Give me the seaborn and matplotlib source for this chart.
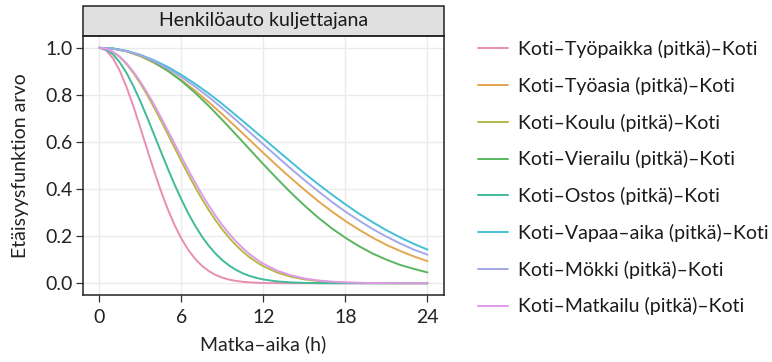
import numpy as np
import pandas as pd
import matplotlib
matplotlib.use("Agg")
import matplotlib.pyplot as plt
from matplotlib.patches import Rectangle
import seaborn as sns

# Travel time in hours: half-hour steps up to 12 h for the steep curves
hours_fine = [0, 0.5, 1, 1.5, 2, 2.5, 3, 3.5, 4, 4.5, 5, 5.5, 6, 6.5, 7, 7.5, 8,
              8.5, 9, 9.5, 10, 10.5, 11, 11.5, 12, 13, 14, 15, 16, 17, 18, 19,
              20, 21, 22, 23, 24]
hours = list(range(0, 25))

# Distance-decay function values per trip type (car driver)
tyopaikka = [1.0, 0.9885, 0.9548, 0.9012, 0.8311, 0.7489, 0.6595, 0.5675, 0.4771,
             0.3920, 0.3146, 0.2468, 0.1892, 0.1417, 0.1037, 0.0741, 0.0518,
             0.0354, 0.0236, 0.0154, 0.0098, 0.0061, 0.0037, 0.0022, 0.0013,
             0.0004, 0.0001, 0, 0, 0, 0, 0, 0, 0, 0, 0, 0]
koulu = [1.0, 0.9954, 0.9819, 0.9597, 0.9296, 0.8921, 0.8484, 0.7995, 0.7466,
         0.6909, 0.6335, 0.5756, 0.5182, 0.4623, 0.4087, 0.3580, 0.3108, 0.2673,
         0.2278, 0.1924, 0.1610, 0.1335, 0.1097, 0.0894, 0.0721, 0.0457, 0.0279,
         0.0164, 0.0093, 0.0051, 0.0027, 0.0014, 0.0007, 0.0003, 0.0001, 0.0001, 0]
ostos = [1.0, 0.9928, 0.9717, 0.9374, 0.8915, 0.8357, 0.7722, 0.7034, 0.6315,
         0.5589, 0.4876, 0.4194, 0.3555, 0.2971, 0.2447, 0.1987, 0.1590, 0.1255,
         0.0976, 0.0748, 0.0565, 0.0421, 0.0309, 0.0224, 0.0160, 0.0078, 0.0036,
         0.0016, 0.0006, 0.0002, 0.0001, 0, 0, 0, 0, 0, 0]
matkailu = [1.0, 0.9957, 0.9828, 0.9618, 0.9331, 0.8974, 0.8557, 0.8089, 0.7581,
            0.7043, 0.6487, 0.5923, 0.5362, 0.4812, 0.4281, 0.3776, 0.3302,
            0.2862, 0.2460, 0.2096, 0.1770, 0.1483, 0.1231, 0.1013, 0.0827,
            0.0536, 0.0336, 0.0203, 0.0119, 0.0067, 0.0037, 0.0019, 0.0010,
            0.0005, 0.0002, 0.0001, 0]
tyoasia = [1.0, 0.996, 0.984, 0.964, 0.936, 0.902, 0.863, 0.818, 0.769, 0.717,
           0.663, 0.608, 0.553, 0.499, 0.447, 0.397, 0.349, 0.305, 0.264, 0.227,
           0.193, 0.163, 0.137, 0.114, 0.094]
vierailu = [1.0, 0.997, 0.986, 0.967, 0.939, 0.903, 0.859, 0.809, 0.753, 0.693,
            0.631, 0.568, 0.505, 0.444, 0.385, 0.330, 0.279, 0.233, 0.193, 0.157,
            0.126, 0.100, 0.078, 0.061, 0.046]
vapaa_aika = [1.0, 0.997, 0.987, 0.970, 0.947, 0.919, 0.885, 0.847, 0.806, 0.761,
              0.713, 0.664, 0.615, 0.565, 0.516, 0.467, 0.421, 0.377, 0.335, 0.295,
              0.259, 0.225, 0.195, 0.167, 0.143]
mokki = [1.0, 0.996, 0.985, 0.968, 0.943, 0.912, 0.876, 0.835, 0.791, 0.743,
         0.693, 0.641, 0.589, 0.538, 0.487, 0.438, 0.391, 0.346, 0.304, 0.266,
         0.230, 0.198, 0.169, 0.143, 0.121]

labels = [
    "Koti\u2013Työpaikka (pitkä)\u2013Koti",
    "Koti\u2013Työasia (pitkä)\u2013Koti",
    "Koti\u2013Koulu (pitkä)\u2013Koti",
    "Koti\u2013Vierailu (pitkä)\u2013Koti",
    "Koti\u2013Ostos (pitkä)\u2013Koti",
    "Koti\u2013Vapaa\u2013aika (pitkä)\u2013Koti",
    "Koti\u2013Mökki (pitkä)\u2013Koti",
    "Koti\u2013Matkailu (pitkä)\u2013Koti",
]
series = [
    (hours_fine, tyopaikka), (hours, tyoasia), (hours_fine, koulu),
    (hours, vierailu), (hours_fine, ostos), (hours, vapaa_aika),
    (hours, mokki), (hours_fine, matkailu),
]
colors = ["#EB8DB3", "#E3A74E", "#B5B946", "#59B55F",
          "#3FBA9A", "#45BFD6", "#A2A9E6", "#DE9AE6"]

frames = [pd.DataFrame({"aika": x, "arvo": y, "matka": lab})
          for lab, (x, y) in zip(labels, series)]
df = pd.concat(frames, ignore_index=True)

sns.set_theme(style="white")
plt.rcParams["font.family"] = ["Lato", "DejaVu Sans"]

fig = plt.figure(figsize=(7.72, 3.62), dpi=100)
ax = fig.add_axes([0.1075, 0.185, 0.4675, 0.7155])

sns.lineplot(data=df, x="aika", y="arvo", hue="matka", hue_order=labels,
             palette=dict(zip(labels, colors)), linewidth=1.4, ax=ax,
             legend=True)

ax.set_xlim(-1.2, 25.2)
ax.set_ylim(-0.05, 1.05)
ax.set_xticks([0, 6, 12, 18, 24])
ax.set_yticks([0.0, 0.2, 0.4, 0.6, 0.8, 1.0])
ax.set_yticklabels(["0.0", "0.2", "0.4", "0.6", "0.8", "1.0"])
ax.grid(True, color="#ebebeb", linewidth=1.0)
ax.set_axisbelow(True)
for sp in ax.spines.values():
    sp.set_color("#222222")
    sp.set_linewidth(1.1)
ax.tick_params(axis="both", which="major", width=0.9, color="#333333",
               labelsize=14, labelcolor="#222222", direction="out",
               bottom=True, left=True)
ax.tick_params(axis="x", length=5, pad=5)
ax.tick_params(axis="y", length=5, pad=2.5)
ax.set_xlabel("Matka\u2013aika (h)", fontsize=14, color="#222222", labelpad=7)
ax.set_ylabel("Etäisyysfunktion arvo", fontsize=14, color="#222222", labelpad=12)

# Facet strip above the panel
strip_h = 0.116
ax.add_patch(Rectangle((0, 1.0), 1, strip_h, transform=ax.transAxes,
                       facecolor="#e0e0e0", edgecolor="#222222",
                       linewidth=1.1, clip_on=False))
ax.text(0.5, 1.0 + strip_h / 2, "Henkilöauto kuljettajana", transform=ax.transAxes,
        ha="center", va="center", fontsize=14, color="#1a1a1a")

handles, labs = ax.get_legend_handles_labels()
ax.legend_.remove()
fig.legend(handles, labs, loc="center left", bbox_to_anchor=(0.619, 0.509),
           frameon=False, fontsize=14, labelspacing=0.96, handlelength=1.55,
           handletextpad=0.5, borderpad=0, borderaxespad=0, labelcolor="#1a1a1a")

fig.savefig("out.png", dpi=100)
